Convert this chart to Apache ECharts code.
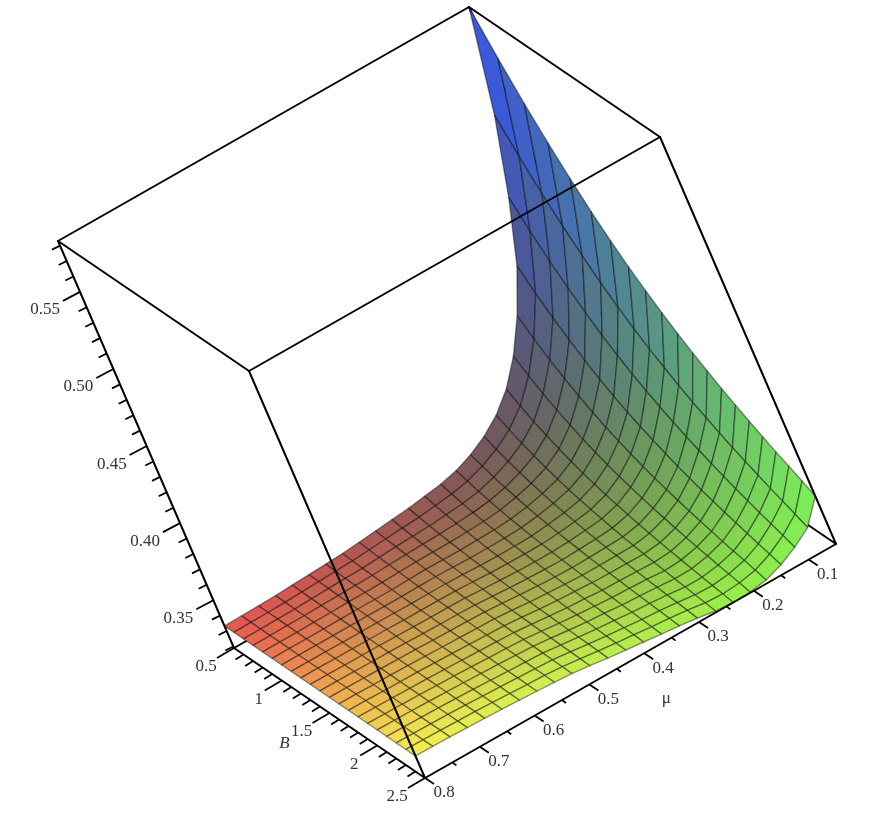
<!DOCTYPE html>
<html>
<head>
<meta charset="utf-8">
<title>surface</title>
<style>
  html, body { margin: 0; padding: 0; background: #fff; }
  #chart { width: 875px; height: 813px; }
</style>
</head>
<body>
<div id="chart"></div>
<script src="https://cdn.jsdelivr.net/npm/echarts@6/dist/echarts.min.js"></script>
<script>
// grid of the surface
const muValues = [0.05, 0.08125, 0.1125, 0.14375, 0.175, 0.20625, 0.2375, 0.26875, 0.3, 0.33125, 0.3625, 0.39375, 0.425, 0.45625, 0.4875, 0.51875, 0.55, 0.58125, 0.6125, 0.64375, 0.675, 0.70625, 0.7375, 0.76875, 0.8]
const bValues = [0.5, 0.6, 0.7, 0.8, 0.9, 1, 1.1, 1.2, 1.3, 1.4, 1.5, 1.6, 1.7, 1.8, 1.9, 2, 2.1, 2.2, 2.3, 2.4, 2.5]
// one row per B value, one column per mu value
const surfaceZ = [
  [.5830,.5190,.4720,.4340,.4080,.3880,.3730,.3625,.3550,.3495,.3455,.3430,.3415,.3400,.3390,.3380,.3370,.3360,.3355,.3350,.3345,.3340,.3337,.3335,.3333],
  [.5539,.4961,.4542,.4203,.3971,.3794,.3663,.3572,.3508,.3462,.3428,.3408,.3396,.3384,.3377,.3370,.3362,.3354,.3350,.3346,.3342,.3338,.3336,.3335,.3333],
  [.5287,.4764,.4388,.4085,.3877,.3720,.3604,.3526,.3472,.3433,.3404,.3388,.3379,.3370,.3366,.3361,.3355,.3348,.3346,.3343,.3340,.3337,.3335,.3334,.3333],
  [.5075,.4597,.4258,.3985,.3798,.3658,.3555,.3487,.3441,.3408,.3385,.3372,.3365,.3359,.3356,.3353,.3349,.3344,.3342,.3340,.3338,.3336,.3335,.3334,.3333],
  [.4884,.4447,.4141,.3895,.3727,.3602,.3511,.3452,.3414,.3387,.3367,.3357,.3352,.3348,.3348,.3347,.3344,.3340,.3339,.3338,.3336,.3335,.3334,.3334,.3333],
  [.4712,.4312,.4036,.3814,.3662,.3551,.3471,.3420,.3389,.3367,.3351,.3344,.3341,.3339,.3340,.3341,.3339,.3336,.3336,.3336,.3335,.3334,.3334,.3334,.3333],
  [.4567,.4198,.3948,.3747,.3608,.3509,.3437,.3394,.3368,.3350,.3337,.3332,.3331,.3331,.3334,.3336,.3335,.3333,.3333,.3334,.3334,.3333,.3333,.3333,.3333],
  [.4439,.4097,.3869,.3686,.3561,.3471,.3408,.3370,.3350,.3336,.3325,.3323,.3322,.3324,.3328,.3331,.3331,.3330,.3331,.3332,.3332,.3332,.3333,.3333,.3333],
  [.4327,.4010,.3801,.3634,.3519,.3438,.3382,.3350,.3334,.3323,.3315,.3314,.3315,.3317,.3323,.3327,.3328,.3328,.3329,.3331,.3331,.3332,.3332,.3333,.3333],
  [.4227,.3931,.3740,.3587,.3481,.3409,.3358,.3331,.3320,.3311,.3306,.3306,.3308,.3312,.3318,.3324,.3325,.3326,.3327,.3329,.3331,.3331,.3332,.3333,.3333],
  [.4134,.3858,.3683,.3543,.3447,.3381,.3337,.3314,.3306,.3301,.3297,.3299,.3302,.3307,.3314,.3320,.3323,.3324,.3326,.3328,.3330,.3331,.3332,.3333,.3333],
  [.4050,.3792,.3631,.3503,.3415,.3357,.3317,.3299,.3294,.3291,.3289,.3292,.3297,.3302,.3311,.3317,.3320,.3322,.3324,.3327,.3329,.3330,.3332,.3333,.3333],
  [.3975,.3733,.3586,.3468,.3387,.3335,.3300,.3285,.3283,.3282,.3282,.3287,.3292,.3298,.3307,.3315,.3318,.3320,.3323,.3326,.3328,.3330,.3331,.3333,.3333],
  [.3903,.3677,.3542,.3434,.3361,.3314,.3283,.3272,.3273,.3274,.3276,.3281,.3287,.3294,.3304,.3312,.3316,.3319,.3322,.3325,.3328,.3329,.3331,.3333,.3333],
  [.3838,.3625,.3502,.3404,.3336,.3294,.3268,.3260,.3264,.3267,.3269,.3276,.3282,.3291,.3301,.3310,.3314,.3317,.3321,.3324,.3327,.3329,.3331,.3332,.3333],
  [.3775,.3576,.3463,.3374,.3313,.3276,.3254,.3248,.3255,.3260,.3264,.3271,.3278,.3287,.3298,.3308,.3313,.3316,.3320,.3324,.3326,.3329,.3331,.3332,.3333],
  [.3717,.3530,.3428,.3347,.3291,.3259,.3240,.3238,.3246,.3253,.3258,.3267,.3274,.3284,.3296,.3306,.3311,.3315,.3319,.3323,.3326,.3328,.3331,.3332,.3333],
  [.3661,.3486,.3393,.3321,.3270,.3242,.3227,.3227,.3238,.3246,.3253,.3262,.3271,.3281,.3293,.3304,.3309,.3313,.3318,.3322,.3325,.3328,.3330,.3332,.3333],
  [.3610,.3446,.3362,.3296,.3251,.3227,.3215,.3218,.3231,.3241,.3248,.3258,.3267,.3278,.3291,.3302,.3308,.3312,.3317,.3321,.3325,.3328,.3330,.3332,.3333],
  [.3556,.3404,.3329,.3271,.3231,.3211,.3203,.3208,.3223,.3234,.3243,.3254,.3264,.3275,.3288,.3300,.3307,.3311,.3316,.3321,.3325,.3327,.3330,.3332,.3333],
  [.3500,.3360,.3295,.3245,.3210,.3195,.3190,.3198,.3215,.3228,.3238,.3250,.3260,.3272,.3286,.3298,.3305,.3310,.3315,.3320,.3324,.3327,.3330,.3332,.3333]
]
const muMajor = ['0.8', '0.7', '0.6', '0.5', '0.4', '0.3', '0.2', '0.1']
const muMinor = [0.75, 0.65, 0.55, 0.45, 0.35, 0.25, 0.15]
const bMajor = ['0.5', '1', '1.5', '2', '2.5']
const bMinor = [0.6, 0.7, 0.8, 0.9, 1.1, 1.2, 1.3, 1.4, 1.6, 1.7, 1.8, 1.9, 2.1, 2.2, 2.3, 2.4]
const zMajor = ['0.35', '0.40', '0.45', '0.50', '0.55']
const zMinor = [0.32, 0.33, 0.34, 0.36, 0.37, 0.38, 0.39, 0.41, 0.42, 0.43, 0.44, 0.46, 0.47, 0.48, 0.49, 0.51, 0.52, 0.53, 0.54, 0.56, 0.57, 0.58]

const muMin = 0.05, muMax = 0.8
const bMin = 0.5, bMax = 2.5
const zMin = 0.319, zMax = 0.583

// flat projection of the box onto the page, in pixels
const origin = [425, 778]
const muVec = [411, -234] // mu 0.8 -> 0.05
const bVec = [-191, -130] // B 2.5 -> 0.5
const zVec = [-176, -407] // zMin -> zMax

function project(mu, b, z) {
  const m = (muMax - mu) / (muMax - muMin)
  const n = (bMax - b) / (bMax - bMin)
  const h = (z - zMin) / (zMax - zMin)
  return [
    origin[0] + m * muVec[0] + n * bVec[0] + h * zVec[0],
    origin[1] + m * muVec[1] + n * bVec[1] + h * zVec[1]
  ]
}

// xyz shading as Maple does it, tuned by eye
function cellColor(mu, b, z) {
  const x = (mu - muMin) / (muMax - muMin)
  const y = (b - bMin) / (bMax - bMin)
  const h = (z - zMin) / (zMax - zMin)
  const r = 55 + 178 * x + 70 * y * (1 - x) + 12 * x * y
  const g = 85 + 155 * y
  const bl = 72 + 173 * h
  return 'rgb(' + Math.round(r) + ',' + Math.round(g) + ',' + Math.round(bl) + ')'
}

const cells = []
for (let i = 0; i < bValues.length - 1; i++) {
  for (let j = 0; j < muValues.length - 1; j++) {
    cells.push([i, j])
  }
}

const corners = {
  A0: [muMax, bMax, zMin], B0: [muMin, bMax, zMin], C0: [muMax, bMin, zMin], D0: [muMin, bMin, zMin],
  A1: [muMax, bMax, zMax], B1: [muMin, bMax, zMax], C1: [muMax, bMin, zMax], D1: [muMin, bMin, zMax]
}
const backEdges = [['C0', 'D0'], ['D0', 'B0'], ['D0', 'D1']]
const frontEdges = [
  ['A0', 'B0'], ['A0', 'C0'], ['A0', 'A1'], ['B0', 'B1'], ['C0', 'C1'],
  ['A1', 'B1'], ['B1', 'D1'], ['D1', 'C1'], ['C1', 'A1']
]

// tick = [start point in data units, direction on the page]
const ticks = []
muMajor.forEach(v => ticks.push({ p: [+v, bMax, zMin], d: [9, 6] }))
muMinor.forEach(v => ticks.push({ p: [v, bMax, zMin], d: [4, 3] }))
bMajor.forEach(v => ticks.push({ p: [muMax, +v, zMin], d: [-17, 10] }))
bMinor.forEach(v => ticks.push({ p: [muMax, v, zMin], d: [-8, 5] }))
zMajor.forEach(v => ticks.push({ p: [muMax, bMin, +v], d: [-17, 9] }))
zMinor.forEach(v => ticks.push({ p: [muMax, bMin, v], d: [-8, 4] }))

const labels = []
muMajor.forEach(v => labels.push({ p: [+v, bMax, zMin], t: v, dx: 19, dy: 15, align: 'center' }))
bMajor.forEach(v => labels.push({ p: [muMax, +v, zMin], t: v, dx: v.length > 1 ? -28 : -23, dy: 19, align: 'center' }))
zMajor.forEach(v => labels.push({ p: [muMax, bMin, +v], t: v, dx: -20, dy: 18, align: 'right' }))
labels.push({ p: [0.4, bMax, zMin], t: 'μ', dx: 22, dy: 45, align: 'center' })
labels.push({ p: [muMax, 1.5, zMin], t: 'B', dx: -45, dy: 31, align: 'center', italic: true })

const fontFamily = '"Liberation Serif", serif'

function edgeItem(list) {
  return (params, api) => {
    const e = list[params.dataIndex]
    const a = api.coord(project(...corners[e[0]]))
    const b = api.coord(project(...corners[e[1]]))
    return {
      type: 'line',
      shape: { x1: a[0], y1: a[1], x2: b[0], y2: b[1] },
      style: { stroke: '#000', lineWidth: 2, lineCap: 'round' }
    }
  }
}

const option = {
  animation: false,
  backgroundColor: '#fff',
  grid: { left: 0, right: 0, top: 0, bottom: 0 },
  xAxis: { type: 'value', min: 0, max: 875, show: false },
  yAxis: { type: 'value', min: 0, max: 813, inverse: true, show: false },
  series: [
    {
      type: 'custom',
      z: 1,
      silent: true,
      clip: false,
      data: backEdges.map((e, i) => [i]),
      renderItem: edgeItem(backEdges)
    },
    {
      type: 'custom',
      z: 2,
      silent: true,
      clip: false,
      data: cells,
      renderItem(params, api) {
        const [i, j] = cells[params.dataIndex]
        const pts = [[i, j], [i, j + 1], [i + 1, j + 1], [i + 1, j]].map(([r, c]) =>
          api.coord(project(muValues[c], bValues[r], surfaceZ[r][c]))
        )
        const zMean = (surfaceZ[i][j] + surfaceZ[i][j + 1] + surfaceZ[i + 1][j] + surfaceZ[i + 1][j + 1]) / 4
        return {
          type: 'polygon',
          shape: { points: pts },
          style: {
            fill: cellColor((muValues[j] + muValues[j + 1]) / 2, (bValues[i] + bValues[i + 1]) / 2, zMean),
            stroke: 'rgba(0,0,0,0.42)',
            lineWidth: 1.4,
            lineJoin: 'round'
          }
        }
      }
    },
    {
      type: 'custom',
      z: 3,
      silent: true,
      clip: false,
      data: frontEdges.map((e, i) => [i]),
      renderItem: edgeItem(frontEdges)
    },
    {
      type: 'custom',
      z: 3,
      silent: true,
      clip: false,
      data: ticks.map((t, i) => [i]),
      renderItem(params, api) {
        const t = ticks[params.dataIndex]
        const a = api.coord(project(...t.p))
        return {
          type: 'line',
          shape: { x1: a[0], y1: a[1], x2: a[0] + t.d[0], y2: a[1] + t.d[1] },
          style: { stroke: '#000', lineWidth: 1.8 }
        }
      }
    },
    {
      type: 'custom',
      z: 4,
      silent: true,
      clip: false,
      data: labels.map((l, i) => [i]),
      renderItem(params, api) {
        const l = labels[params.dataIndex]
        const a = api.coord(project(...l.p))
        return {
          type: 'text',
          x: a[0] + l.dx,
          y: a[1] + l.dy,
          style: {
            text: l.t,
            fill: '#333',
            font: (l.italic ? 'italic ' : '') + '17px ' + fontFamily,
            align: l.align,
            verticalAlign: 'middle'
          }
        }
      }
    }
  ]
}

const chart = echarts.init(document.getElementById('chart'))
chart.setOption(option)
</script>
</body>
</html>
